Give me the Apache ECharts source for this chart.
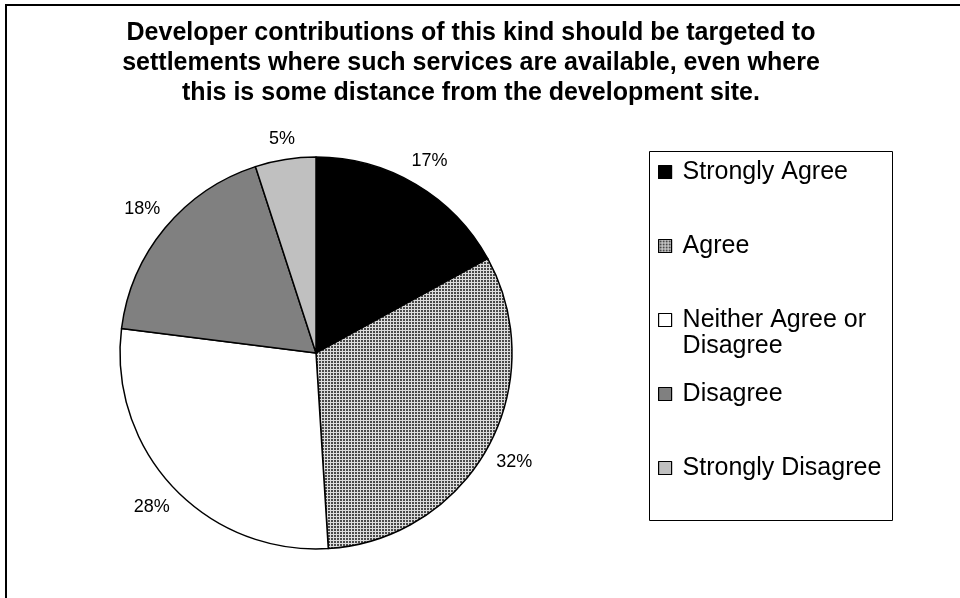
<!DOCTYPE html>
<html>
<head>
<meta charset="utf-8">
<script src="https://cdn.jsdelivr.net/npm/echarts@6/dist/echarts.min.js"></script>
<style>
  html, body { margin: 0; padding: 0; background: #fff; }
  #main { width: 960px; height: 598px; }
</style>
</head>
<body>
<div id="main"></div>
<script>
// chart data
const titleLines = [
  'Developer contributions of this kind should be targeted to',
  'settlements where such services are available, even where',
  'this is some distance from the development site.'
];
const categories = ['Strongly Agree', 'Agree', 'Neither Agree or Disagree', 'Disagree', 'Strongly Disagree'];
const values = [17, 32, 28, 18, 5];

const pieCenter = [316, 353];
const pieRadius = 196;

// fine grid fill for "Agree", like the old excel pattern
function makeGrid() {
  const c = document.createElement('canvas');
  c.width = 3;
  c.height = 3;
  const ctx = c.getContext('2d');
  ctx.fillStyle = '#4a4a4a';
  ctx.fillRect(0, 0, 3, 3);
  ctx.fillStyle = '#dcdcdc';
  ctx.fillRect(0, 0, 3, 1);
  ctx.fillRect(0, 0, 1, 3);
  return { image: c, repeat: 'repeat' };
}

const fills = ['#000000', makeGrid(), '#ffffff', '#808080', '#c0c0c0'];

// put each % label just off the rim, along the middle of its slice
function placeLabel(params) {
  const total = values.reduce((a, b) => a + b, 0);
  let before = 0;
  for (let i = 0; i < params.dataIndex; i++) before += values[i];
  const mid = (before + values[params.dataIndex] / 2) / total * Math.PI * 2;
  const sx = Math.sin(mid), cy = Math.cos(mid);
  const hw = params.labelRect.width / 2, hh = params.labelRect.height / 2;
  const d = pieRadius + 10 + hw * Math.abs(sx) + hh * Math.abs(cy);
  return {
    x: pieCenter[0] + d * sx,
    y: pieCenter[1] - d * cy,
    align: 'center',
    verticalAlign: 'middle'
  };
}

const chart = echarts.init(document.getElementById('main'), null, { renderer: 'canvas' });

const option = {
  backgroundColor: '#fff',
  animation: false,
  title: {
    text: titleLines.join('\n'),
    left: 471,
    top: 13,
    textAlign: 'center',
    padding: [5, 0, 5, 0],
    textStyle: {
      fontFamily: 'Liberation Sans, Arial, sans-serif',
      fontWeight: 'bold',
      fontSize: 25,
      lineHeight: 30,
      color: '#000'
    }
  },
  legend: {
    orient: 'vertical',
    left: 658,
    top: 133,
    padding: 0,
    itemGap: -4,
    itemWidth: 13,
    itemHeight: 13,
    icon: 'rect',
    selectedMode: false,
    data: categories,
    itemStyle: { borderColor: '#000', borderWidth: 1.2 },
    formatter: function (name) {
      // blank line on top keeps the marker next to the first text line
      if (name.indexOf('Neither') === 0) {
        return ' \n' + name.replace('or Disagree', 'or\nDisagree');
      }
      return ' \n' + name + '\n ';
    },
    textStyle: {
      fontFamily: 'Liberation Sans, Arial, sans-serif',
      fontSize: 25,
      lineHeight: 26,
      color: '#000',
      padding: [0, 0, 0, 6]
    }
  },
  graphic: [
    {
      type: 'rect',
      shape: { x: 649.5, y: 151.5, width: 243, height: 369 },
      style: { fill: 'none', stroke: '#000', lineWidth: 1 },
      silent: true
    },
    {
      type: 'polyline',
      shape: { points: [[6, 598], [6, 5], [960, 5]] },
      style: { fill: 'none', stroke: '#000', lineWidth: 2 },
      silent: true
    }
  ],
  series: [{
    type: 'pie',
    center: pieCenter,
    radius: pieRadius,
    startAngle: 90,
    clockwise: true,
    avoidLabelOverlap: false,
    itemStyle: { borderColor: '#000', borderWidth: 1.5 },
    label: {
      show: true,
      position: 'outside',
      formatter: '{c}%',
      fontFamily: 'Liberation Sans, Arial, sans-serif',
      fontSize: 18,
      color: '#000'
    },
    labelLine: { show: false, length: 14, length2: 0 },
    labelLayout: placeLabel,
    emphasis: { disabled: true },
    data: categories.map((name, i) => ({
      name: name,
      value: values[i],
      itemStyle: { color: fills[i] }
    }))
  }]
};

chart.setOption(option);
</script>
</body>
</html>
